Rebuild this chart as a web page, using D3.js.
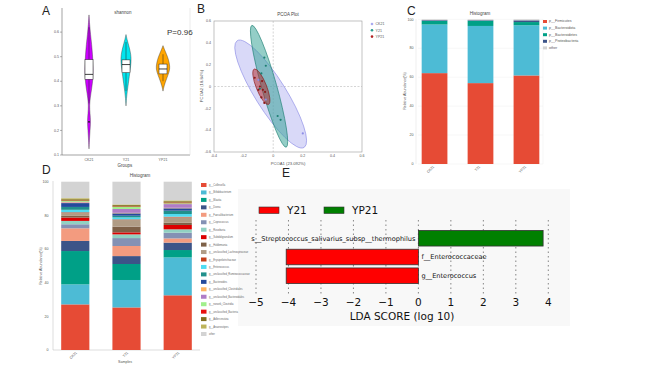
<!DOCTYPE html>
<html>
<head>
<meta charset="utf-8">
<script src="https://cdn.jsdelivr.net/npm/d3@7"></script>
<style>
  body { margin: 0; background: #fff; }
  svg { display: block; font-family: "Liberation Sans", Arial, sans-serif; }
  .tiny { font-size: 3.6px; fill: #555; }
  .lda { font-family: "DejaVu Sans", sans-serif; }
</style>
</head>
<body>
<script>
// ---------- data ----------
const groups = ["CK21", "Y21", "YP21"];

// A: shannon violins, [value, relative density]
const violinCK21 = [[0.125,0],[0.16,0.06],[0.2,0.14],[0.235,0.24],[0.27,0.14],[0.3,0.07],[0.33,0.16],[0.37,0.38],[0.4,0.52],[0.43,0.6],[0.47,0.58],[0.51,0.5],[0.55,0.38],[0.59,0.22],[0.63,0.09],[0.67,0]];
const violinY21 = [[0.3,0],[0.33,0.06],[0.36,0.18],[0.39,0.33],[0.42,0.48],[0.45,0.6],[0.48,0.75],[0.51,0.7],[0.54,0.45],[0.57,0.15],[0.59,0]];
const violinYP21 = [[0.36,0],[0.38,0.14],[0.41,0.5],[0.44,0.92],[0.46,1.0],[0.49,0.78],[0.51,0.5],[0.53,0.2],[0.545,0]];
const boxStats = [[0.31,0.408,0.428,0.488,0.62],[0.36,0.435,0.468,0.487,0.56],[0.40,0.43,0.45,0.47,0.51]];
const shannonOutliers = [["CK21",0.235]];
const shannonTicks = [0.1,0.2,0.3,0.4,0.5,0.6];

// B: PCoA
const pcoaCK21 = [[0.2,-0.43],[-0.1,0.06],[-0.05,-0.12]];
const pcoaY21 = [[-0.06,0.265],[-0.05,0.19],[-0.08,0.12],[0.03,-0.27],[0.05,-0.305],[-0.09,-0.02]];
const pcoaYP21 = [[-0.125,0.08],[-0.075,0.05],[-0.09,0.0],[-0.1,-0.03],[-0.07,-0.03],[-0.055,-0.05],[-0.08,-0.1],[-0.06,-0.15]];
// [centerX, centerY, endX, endY, minor/major ratio]
const ellipses = [[-0.017,-0.069,-0.243,0.42,0.245],[-0.028,0.002,-0.144,0.56,0.119],[-0.08,-0.002,-0.128,0.16,0.27]];
const pcoaTicks = [-0.4,-0.2,0,0.2,0.4,0.6];
const pcoaYTicks = [-0.6,-0.4,-0.2,0,0.2,0.4,0.6];

// C: phylum
const phylumNames = ["p__Firmicutes","p__Bacteroidota","p__Bacteroidetes","p__Proteobacteria","other"];
const phylumCK21 = [62.8,33.6,2.5,0.5,0.6];
const phylumY21 = [55.9,39.5,3.6,0.4,0.6];
const phylumYP21 = [61.2,34.7,2.2,1.2,0.7];
const phylumColors = ["#e64b35","#4dbbd5","#00a087","#3c5488","#d3d3d3"];

// D: genus
const genusNames = ["g__Collinsella","g__Bifidobacterium","g__Blautia","g__Dorea","g__Faecalibacterium","g__Coprococcus","g__Roseburia","g__Subdoligranulum","g__Holdemania","g__unclassified_Lachnospiraceae","g__Erysipelotrichaceae","g__Enterococcus","g__unclassified_Ruminococcaceae","g__Bacteroides","g__unclassified_Clostridiales","g__unclassified_Bacteroidales","g__norank_Clostridia","g__unclassified_Bacteria","g__Adlercreutzia","g__Anaerostipes","other"];
const genusCK21 = [27.1,11.9,19.8,6.0,7.5,2.4,2.0,2.0,1.0,1.6,0.5,1.5,1.7,2.3,0.4,0.3,0.5,0.3,0.8,0.6,9.8];
const genusY21 = [25.3,16.3,9.5,4.7,6.0,4.7,2.2,1.2,3.4,3.9,0.4,1.2,1.0,1.4,0.3,2.3,1.2,0.3,0.8,0.4,13.5];
const genusYP21 = [32.5,22.5,4.4,4.4,2.5,3.4,2.0,2.6,1.3,3.2,0.4,1.6,2.0,1.4,0.3,2.2,0.5,0.4,0.8,0.5,11.1];
const genusColors = ["#e64b35","#4dbbd5","#00a087","#3c5488","#f39b7f","#8491b4","#91d1c2","#dc0000","#7e6148","#b09c85","#c4401a","#4fdcf2","#21908c","#244a9c","#fdb462","#b07cc6","#a1ef8b","#e8110f","#827020","#bdb35a","#d3d3d3"];
const abundTicks = [0,20,40,60,80,100];

// E: LEfSe
const ldaFeatures = ["s__Streptococcus_salivarius_subsp__thermophilus","f__Enterococcaceae","g__Enterococcus"];
const ldaScores = [3.84,-4.07,-4.07];
const ldaGroups = ["YP21","Y21","Y21"];
const ldaTicks = [-5,-4,-3,-2,-1,0,1,2,3,4];
const ldaColors = {Y21: "#ff0000", YP21: "#008000"};

// ---------- svg ----------
const svg = d3.select("body").append("svg").attr("width", 650).attr("height", 366);

function letter(t, x, y) {
  svg.append("text").attr("x", x).attr("y", y).attr("font-size", 12).attr("fill", "#222").text(t);
}

// ===== A =====
{
  const y = d3.scaleLinear().domain([0.1, 0.69]).range([155, 10]);
  const x = d3.scalePoint().domain(groups).range([89, 163]);
  const g = svg.append("g");
  g.append("line").attr("x1", 62).attr("x2", 62).attr("y1", 8).attr("y2", 155).attr("stroke", "#666").attr("stroke-width", 0.6);
  g.append("line").attr("x1", 62).attr("x2", 190).attr("y1", 155).attr("y2", 155).attr("stroke", "#666").attr("stroke-width", 0.6);
  g.append("line").attr("x1", 190).attr("x2", 190).attr("y1", 8).attr("y2", 155).attr("stroke", "#ddd").attr("stroke-width", 0.6);
  shannonTicks.forEach(t => {
    g.append("line").attr("x1", 60).attr("x2", 62).attr("y1", y(t)).attr("y2", y(t)).attr("stroke", "#666").attr("stroke-width", 0.5);
    g.append("text").attr("class", "tiny").attr("x", 59).attr("y", y(t) + 1.2).attr("text-anchor", "end").text(t.toFixed(1));
  });
  groups.forEach(gr => {
    g.append("text").attr("class", "tiny").attr("x", x(gr)).attr("y", 161).attr("text-anchor", "middle").text(gr);
  });
  g.append("text").attr("x", 125).attr("y", 167).attr("font-size", 4.5).attr("fill", "#444").attr("text-anchor", "middle").text("Groups");
  g.append("text").attr("x", 123).attr("y", 14).attr("font-size", 4.5).attr("fill", "#444").attr("text-anchor", "middle").text("shannon");
  g.append("text").attr("x", 167).attr("y", 35).attr("font-size", 8).attr("fill", "#333").text("P=0.96");

  const profiles = [violinCK21, violinY21, violinYP21];
  const fills = ["#cc00ff", "#00e5ee", "#ffa500"];
  const halfW = 7;
  groups.forEach((gr, i) => {
    const cx = x(gr);
    const area = d3.area()
      .y(d => y(d[0]))
      .x0(d => cx - d[1] * halfW)
      .x1(d => cx + d[1] * halfW)
      .curve(d3.curveBasis);
    g.append("path").attr("d", area(profiles[i])).attr("fill", fills[i]).attr("stroke", "#333").attr("stroke-width", 0.4);
    const b = boxStats[i];
    g.append("line").attr("x1", cx).attr("x2", cx).attr("y1", y(b[0])).attr("y2", y(b[4])).attr("stroke", "#222").attr("stroke-width", 0.5);
    g.append("rect").attr("x", cx - 4).attr("width", 8).attr("y", y(b[3])).attr("height", y(b[1]) - y(b[3]))
      .attr("fill", "#fff").attr("stroke", "#222").attr("stroke-width", 0.5);
    g.append("line").attr("x1", cx - 4).attr("x2", cx + 4).attr("y1", y(b[2])).attr("y2", y(b[2])).attr("stroke", "#111").attr("stroke-width", 0.8);
  });
  shannonOutliers.forEach(o => {
    g.append("circle").attr("cx", x(o[0])).attr("cy", y(o[1])).attr("r", 0.9).attr("fill", "#111");
  });
}
letter("A", 42, 15);

// ===== B =====
{
  const x = d3.scaleLinear().domain([-0.4, 0.6]).range([214, 362]);
  const y = d3.scaleLinear().domain([-0.6, 0.6]).range([152, 21]);
  const g = svg.append("g");
  g.append("rect").attr("x", 214).attr("y", 21).attr("width", 148).attr("height", 131).attr("fill", "none").attr("stroke", "#999").attr("stroke-width", 0.6);
  g.append("line").attr("x1", x(0)).attr("x2", x(0)).attr("y1", 21).attr("y2", 152).attr("stroke", "#aaa").attr("stroke-width", 0.5).attr("stroke-dasharray", "2,1.5");
  g.append("line").attr("x1", 214).attr("x2", 362).attr("y1", y(0)).attr("y2", y(0)).attr("stroke", "#aaa").attr("stroke-width", 0.5).attr("stroke-dasharray", "2,1.5");
  pcoaTicks.forEach(t => {
    g.append("text").attr("class", "tiny").attr("x", x(t)).attr("y", 157).attr("text-anchor", "middle").text(t === 0 ? "0" : t.toFixed(1));
  });
  pcoaYTicks.forEach(t => {
    g.append("text").attr("class", "tiny").attr("x", 211).attr("y", y(t) + 1.2).attr("text-anchor", "end").text(t === 0 ? "0" : t.toFixed(1));
  });
  g.append("text").attr("x", 288).attr("y", 16).attr("font-size", 4.5).attr("fill", "#444").attr("text-anchor", "middle").text("PCOA Plot");
  g.append("text").attr("x", 288).attr("y", 164.5).attr("font-size", 4.2).attr("fill", "#555").attr("text-anchor", "middle").text("PCOA1 (23.092%)");
  g.append("text").attr("transform", "translate(203,86) rotate(-90)").attr("font-size", 4.2).attr("fill", "#555").attr("text-anchor", "middle").text("PCOA2 (18.84%)");

  const fills = ["#aaaaf0", "#2a9d8f", "#b22222"];
  const strokes = ["#8d8de6", "#1d7f72", "#8b1a1a"];
  const opac = [0.45, 0.5, 0.5];
  ellipses.forEach((e, i) => {
    const cx = x(e[0]), cy = y(e[1]), ex = x(e[2]), ey = y(e[3]);
    const a = Math.hypot(ex - cx, ey - cy);
    const ang = Math.atan2(ey - cy, ex - cx) * 180 / Math.PI;
    g.append("ellipse").attr("cx", cx).attr("cy", cy).attr("rx", a).attr("ry", a * e[4])
      .attr("transform", `rotate(${ang},${cx},${cy})`)
      .attr("fill", fills[i]).attr("fill-opacity", opac[i]).attr("stroke", strokes[i]).attr("stroke-width", 0.6);
  });
  [pcoaCK21, pcoaY21, pcoaYP21].forEach((pts, i) => {
    g.selectAll(null).data(pts).enter().append("circle")
      .attr("cx", d => x(d[0])).attr("cy", d => y(d[1])).attr("r", 1.1).attr("fill", strokes[i]);
  });
  groups.forEach((gr, i) => {
    g.append("circle").attr("cx", 372).attr("cy", 24 + i * 6.3).attr("r", 1.3).attr("fill", fills[i]);
    g.append("text").attr("class", "tiny").attr("x", 375.5).attr("y", 25.2 + i * 6.3).text(gr);
  });
}
letter("B", 197, 13);

// stacked bars helper
function stacked(g, names, rows, colors, x, y, bw) {
  const table = groups.map((gr, i) => {
    const o = {group: gr};
    names.forEach((n, j) => o[n] = rows[i][j]);
    return o;
  });
  const series = d3.stack().keys(names)(table);
  series.forEach((s, j) => {
    g.selectAll(null).data(s).enter().append("rect")
      .attr("x", d => x(d.data.group)).attr("width", bw)
      .attr("y", d => y(d[1])).attr("height", d => y(d[0]) - y(d[1]))
      .attr("fill", colors[j]);
  });
}

// ===== C =====
{
  const y = d3.scaleLinear().domain([0, 100]).range([164, 19.3]);
  const x = d3.scaleBand().domain(groups).range([418, 543]).paddingInner(0.44).paddingOuter(0.08);
  const g = svg.append("g");
  abundTicks.forEach(t => {
    g.append("line").attr("x1", 418).attr("x2", 543).attr("y1", y(t)).attr("y2", y(t)).attr("stroke", "#eee").attr("stroke-width", 0.5);
    g.append("text").attr("class", "tiny").attr("x", 413.5).attr("y", y(t) + 1.2).attr("text-anchor", "end").text(t);
  });
  groups.forEach(gr => {
    g.append("line").attr("x1", x(gr) + x.bandwidth() / 2).attr("x2", x(gr) + x.bandwidth() / 2).attr("y1", 19).attr("y2", 164).attr("stroke", "#f2f2f2").attr("stroke-width", 0.5);
  });
  g.append("line").attr("x1", 543).attr("x2", 543).attr("y1", 19).attr("y2", 164).attr("stroke", "#eee").attr("stroke-width", 0.5);
  g.append("line").attr("x1", 416).attr("x2", 416).attr("y1", 19).attr("y2", 164).attr("stroke", "#ddd").attr("stroke-width", 0.5);
  stacked(g, phylumNames, [phylumCK21, phylumY21, phylumYP21], phylumColors, x, y, x.bandwidth());
  groups.forEach(gr => {
    const cx = x(gr) + x.bandwidth() / 2;
    g.append("text").attr("class", "tiny").attr("transform", `translate(${cx},167) rotate(-45)`).attr("text-anchor", "end").text(gr);
  });
  g.append("text").attr("x", 480).attr("y", 15).attr("font-size", 4.5).attr("fill", "#444").attr("text-anchor", "middle").text("Histogram");
  g.append("text").attr("transform", "translate(406,91) rotate(-90)").attr("class", "tiny").attr("text-anchor", "middle").text("Relative Abundance(%)");
  phylumNames.forEach((n, i) => {
    g.append("rect").attr("x", 543).attr("y", 20 + i * 6.6).attr("width", 4).attr("height", 3).attr("fill", phylumColors[i]);
    g.append("text").attr("class", "tiny").attr("font-size", 3).attr("x", 549).attr("y", 22.4 + i * 6.6).text(n);
  });
}
letter("C", 407, 15);

// ===== E (background first) =====
svg.append("rect").attr("x", 238).attr("y", 189).attr("width", 332).attr("height", 137).attr("fill", "#f8f8f8");

// ===== D =====
{
  const y = d3.scaleLinear().domain([0, 100]).range([350, 181.7]);
  const x = d3.scaleBand().domain(groups).range([53, 200]).paddingInner(0.45).paddingOuter(0.16);
  const g = svg.append("g");
  g.append("line").attr("x1", 53).attr("x2", 53).attr("y1", 181).attr("y2", 350).attr("stroke", "#bbb").attr("stroke-width", 0.5);
  g.append("line").attr("x1", 53).attr("x2", 200).attr("y1", 350).attr("y2", 350).attr("stroke", "#bbb").attr("stroke-width", 0.5);
  abundTicks.forEach(t => {
    g.append("text").attr("class", "tiny").attr("x", 48.5).attr("y", y(t) + 1.2).attr("text-anchor", "end").text(t);
  });
  stacked(g, genusNames, [genusCK21, genusY21, genusYP21], genusColors, x, y, x.bandwidth());
  groups.forEach(gr => {
    const cx = x(gr) + x.bandwidth() / 2;
    g.append("text").attr("class", "tiny").attr("transform", `translate(${cx + 2},353) rotate(-45)`).attr("text-anchor", "end").text(gr);
  });
  g.append("text").attr("x", 125).attr("y", 363).attr("class", "tiny").attr("text-anchor", "middle").text("Samples");
  g.append("text").attr("x", 140).attr("y", 177).attr("font-size", 4.5).attr("fill", "#444").attr("text-anchor", "middle").text("Histogram");
  g.append("text").attr("transform", "translate(42,266) rotate(-90)").attr("class", "tiny").attr("text-anchor", "middle").text("Relative Abundance(%)");
  genusNames.forEach((n, i) => {
    g.append("rect").attr("x", 201).attr("y", 183 + i * 7.45).attr("width", 5.5).attr("height", 4).attr("fill", genusColors[i]);
    g.append("text").attr("font-size", 2.6).attr("fill", "#666").attr("x", 209).attr("y", 186 + i * 7.45).text(n);
  });
}
letter("D", 42, 174);

// ===== E =====
{
  const x = d3.scaleLinear().domain([-5, 4]).range([256, 548.3]);
  const y = d3.scaleBand().domain(ldaFeatures).range([230.5, 283.5]).paddingInner(0.17);
  const g = svg.append("g").attr("class", "lda");
  ldaTicks.forEach(t => {
    g.append("line").attr("x1", x(t)).attr("x2", x(t)).attr("y1", 220).attr("y2", 296)
      .attr("stroke", "#555").attr("stroke-width", 0.7).attr("stroke-dasharray", "1.5,3");
    g.append("text").attr("x", x(t)).attr("y", 305.5).attr("font-size", 10.5).attr("fill", "#111")
      .attr("text-anchor", "middle").text(t < 0 ? "\u2212" + Math.abs(t) : t);
  });
  g.append("text").attr("x", 402).attr("y", 319.5).attr("font-size", 10.5).attr("fill", "#111").attr("text-anchor", "middle").text("LDA SCORE (log 10)");
  ldaFeatures.forEach((f, i) => {
    const v = ldaScores[i];
    g.append("rect").attr("x", x(Math.min(0, v))).attr("width", Math.abs(x(v) - x(0)))
      .attr("y", y(f)).attr("height", y.bandwidth())
      .attr("fill", ldaColors[ldaGroups[i]]).attr("stroke", "#333").attr("stroke-width", 0.8);
    g.append("text").attr("x", v > 0 ? x(0) - 3 : x(0) + 3).attr("y", y(f) + y.bandwidth() / 2 + 2.3)
      .attr("font-size", 6.6).attr("fill", "#111").attr("text-anchor", v > 0 ? "end" : "start").text(f);
  });
  ["Y21", "YP21"].forEach((gr, i) => {
    const lx = 259 + i * 65;
    g.append("rect").attr("x", lx).attr("y", 207).attr("width", 20).attr("height", 6.5)
      .attr("fill", ldaColors[gr]).attr("stroke", "#333").attr("stroke-width", 0.6);
    g.append("text").attr("x", lx + 28).attr("y", 214).attr("font-size", 10.5).attr("fill", "#111").text(gr);
  });
}
letter("E", 282, 177);
</script>
</body>
</html>
